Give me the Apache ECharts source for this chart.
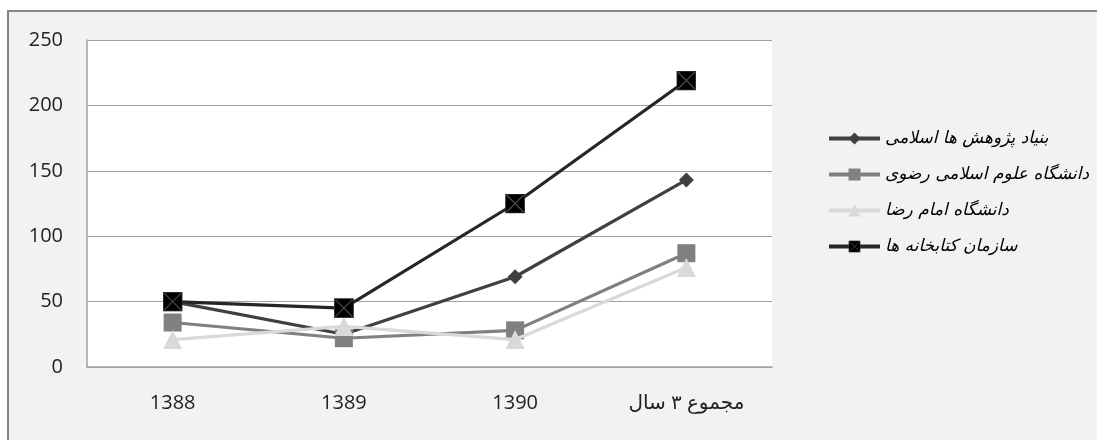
<!DOCTYPE html>
<html>
<head>
<meta charset="utf-8">
<script src="https://cdn.jsdelivr.net/npm/echarts@6/dist/echarts.min.js"></script>
<style>
html,body{margin:0;padding:0;background:#fff;}
#c{width:1097px;height:440px;}
</style>
</head>
<body>
<div id="c"></div>
<script>
const categories = ['1388', '1389', '1390', 'مجموع ۳ سال'];
const seriesNames = ['بنیاد پژوهش ها اسلامی', 'دانشگاه علوم اسلامی رضوی', 'دانشگاه امام رضا', 'سازمان کتابخانه ها'];
const bonyad = [50, 25, 69, 143];
const razavi = [34, 22, 28, 87];
const imamReza = [21, 31, 21, 76];
const sazman = [50, 45, 125, 219];
const yTicks = [0, 50, 100, 150, 200, 250];

const xSquare = 'image://data:image/svg+xml;charset=utf-8,' + encodeURIComponent(
  '<svg xmlns="http://www.w3.org/2000/svg" width="40" height="40"><rect x="1" y="1" width="38" height="38" fill="#000" stroke="#333" stroke-width="2"/><path d="M3,3L37,37M37,3L3,37" stroke="#4a4a4a" stroke-width="2.4"/></svg>');

const chart = echarts.init(document.getElementById('c'), null, {renderer: 'canvas'});
const fontNum = '"Open Sans", "DejaVu Sans", sans-serif';
const fontAr = '"DejaVu Sans", sans-serif';

function mk(name, data, color, lineColor, symbol, size, z) {
  return {
    name: name, type: 'line', data: data, symbol: symbol, symbolSize: size,
    showAllSymbol: true, z: z,
    lineStyle: {color: lineColor, width: 3.2},
    itemStyle: {color: color, borderWidth: 0},
    emphasis: {disabled: true},
    animation: false
  };
}

chart.setOption({
  backgroundColor: '#ffffff',
  animation: false,
  graphic: [{
    type: 'rect', z: -10, silent: true,
    shape: {x: 8, y: 11, width: 1100, height: 440},
    style: {fill: '#f2f2f2', stroke: '#868686', lineWidth: 2}
  }],
  grid: {
    left: 87, top: 40, right: 325, bottom: 73,
    show: true, backgroundColor: '#ffffff', borderWidth: 0
  },
  legend: {
    orient: 'vertical', left: 822, top: 125,
    itemWidth: 51, itemHeight: 15, itemGap: 19,
    data: seriesNames,
    lineStyle: {width: 4},
    textStyle: {fontFamily: fontAr, fontSize: 17, fontStyle: 'italic', color: '#000', lineHeight: 15},
    selectedMode: false
  },
  xAxis: {
    type: 'category', data: categories, boundaryGap: true,
    axisLine: {lineStyle: {color: '#a0a0a0', width: 1.5}},
    axisTick: {show: false},
    axisLabel: {margin: 26, fontSize: 20, color: '#222', fontFamily: fontNum}
  },
  yAxis: {
    type: 'value', min: yTicks[0], max: yTicks[yTicks.length - 1], interval: 50,
    axisLine: {show: true, lineStyle: {color: '#a0a0a0', width: 1.5}},
    axisTick: {show: false},
    splitLine: {lineStyle: {color: '#a0a0a0', width: 1.2}},
    axisLabel: {margin: 24, fontSize: 20, color: '#222', fontFamily: fontNum}
  },
  series: [
    mk(seriesNames[0], bonyad, '#404040', '#404040', 'diamond', 15, 2),
    mk(seriesNames[1], razavi, '#808080', '#808080', 'rect', 18, 3),
    mk(seriesNames[2], imamReza, '#d9d9d9', '#d9d9d9', 'triangle', 19, 4),
    mk(seriesNames[3], sazman, '#000000', '#262626', xSquare, 20, 5)
  ]
});
</script>
</body>
</html>
